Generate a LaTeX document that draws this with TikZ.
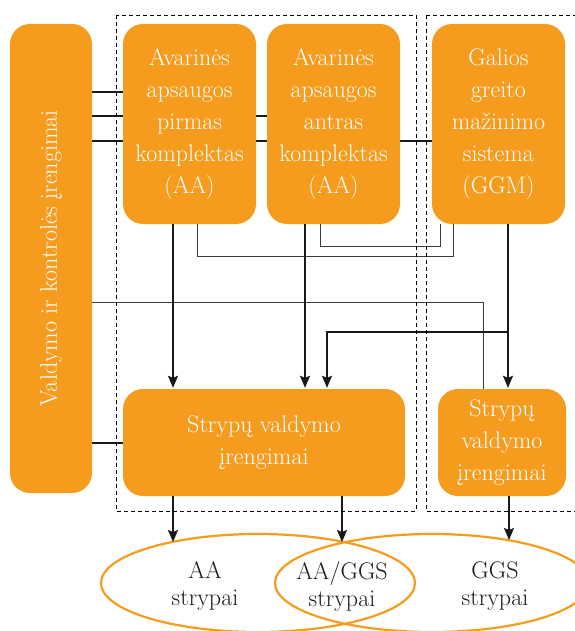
\documentclass[tikz,border=0pt]{standalone}
\usepackage{fontspec}
\usepackage{tikz}
\usetikzlibrary{positioning,shapes.geometric,arrows.meta,backgrounds}
\definecolor{boxorange}{RGB}{245,156,31}
\definecolor{linegray}{RGB}{60,60,60}
\tikzset{
    orange-box/.style = {fill=boxorange, text=white, rounded corners=20pt, inner sep=0pt, align=center, font=\fontsize{24}{32}\selectfont},
    dashed-frame/.style = {draw=black, line width=0.7pt, dash pattern=on 4pt off 3pt},
    main-link/.style = {draw=black!90, line width=1.5pt},
    side-link/.style = {draw=linegray, line width=0.9pt},
    rod-set/.style = {draw=boxorange, ellipse, line width=2.2pt, minimum width=314pt, minimum height=98pt, inner sep=0pt},
    rod-label/.style = {text=black!90, align=center, font=\fontsize{24}{27}\selectfont},
}

\begin{document}
\begin{tikzpicture}[x=1pt, y=-1pt, >={Stealth[length=12pt, width=10pt, inset=2pt]}]
\useasboundingbox (0,0) rectangle (574,631);

% boxes
\node [orange-box, minimum width=82pt, minimum height=469pt] (ctrl) at (51,258.5) {};
\node [rotate=90, text=white, font=\fontsize{24}{32}\selectfont] (ctrl-text) at (ctrl.center) {Valdymo ir kontrolės įrengimai};
\node [orange-box, minimum width=133pt, minimum height=200pt] (aa1) at (189.5,124) {Avarinės\\apsaugos\\pirmas\\komplektas\\(AA)};
\node [orange-box, minimum width=133pt, minimum height=200pt] (aa2) at (333.5,124) {Avarinės\\apsaugos\\antras\\komplektas\\(AA)};
\node [orange-box, minimum width=133pt, minimum height=200pt] (ggm) at (498.5,124) {Galios\\greito\\mažinimo\\sistema\\(GGM)};
\node [orange-box, minimum width=282pt, minimum height=107pt] (sv1) at (264,442.5) {Strypų valdymo\\įrengimai};
\node [orange-box, minimum width=128pt, minimum height=107pt] (sv2) at (502,442.5) {Strypų\\valdymo\\įrengimai};

% rods
\node [rod-set] (rods-aa) at (258,583) {};
\node [rod-set] (rods-ggs) at (432,583) {};
\node [rod-label] (lbl-aa) at (205,586) {AA\\strypai};
\node [rod-label] (lbl-mid) at (342,586) {AA/GGS\\strypai};
\node [rod-label] (lbl-ggs) at (495,586) {GGS\\strypai};

\coordinate (ggm-split) at (508,332);
\coordinate (hit-aa) at (173,542);
\coordinate (hit-mid) at (342,542);
\coordinate (hit-ggs) at (509,540);

\begin{scope}[on background layer]
\draw [main-link] (ctrl.east |- 0,92) -- (aa1.west |- 0,92);
\draw [main-link] (ctrl.east |- 0,116) -- (aa2.west |- 0,116);
\draw [main-link] (ctrl.east |- 0,141) -- (ggm.west |- 0,141);
\draw [main-link] (ctrl.east |- 0,443) -- (sv1.west |- 0,443);
\draw [side-link] (ctrl.east |- 0,302) -| (sv2.north -| 483,0);
\draw [side-link] (aa1.south -| 197,0) |- (453,256) -- (ggm.south -| 453,0);
\draw [side-link] (aa2.south -| 320,0) |- (440,246) -- (ggm.south -| 440,0);
\end{scope}

% arrows
\draw [main-link, ->, shorten >=1pt] (aa1.south -| 173,0) -- (sv1.north -| 173,0);
\draw [main-link, ->, shorten >=1pt] (aa2.south -| 305,0) -- (sv1.north -| 305,0);
\draw [main-link, ->, shorten >=1pt] (ggm.south -| 508,0) -- (sv2.north -| 508,0);
\draw [main-link, ->, shorten >=1pt] (ggm-split) -| (sv1.north -| 327,0);
\draw [main-link, ->] (sv1.south -| 173,0) -- (hit-aa);
\draw [main-link, ->] (sv1.south -| 342,0) -- (hit-mid);
\draw [main-link, ->] (sv2.south -| 509,0) -- (hit-ggs);

% frames
\draw [dashed-frame] (116,15) rectangle (416,511);
\draw [dashed-frame] (426,15) rectangle (590,511);
\end{tikzpicture}
\end{document}
